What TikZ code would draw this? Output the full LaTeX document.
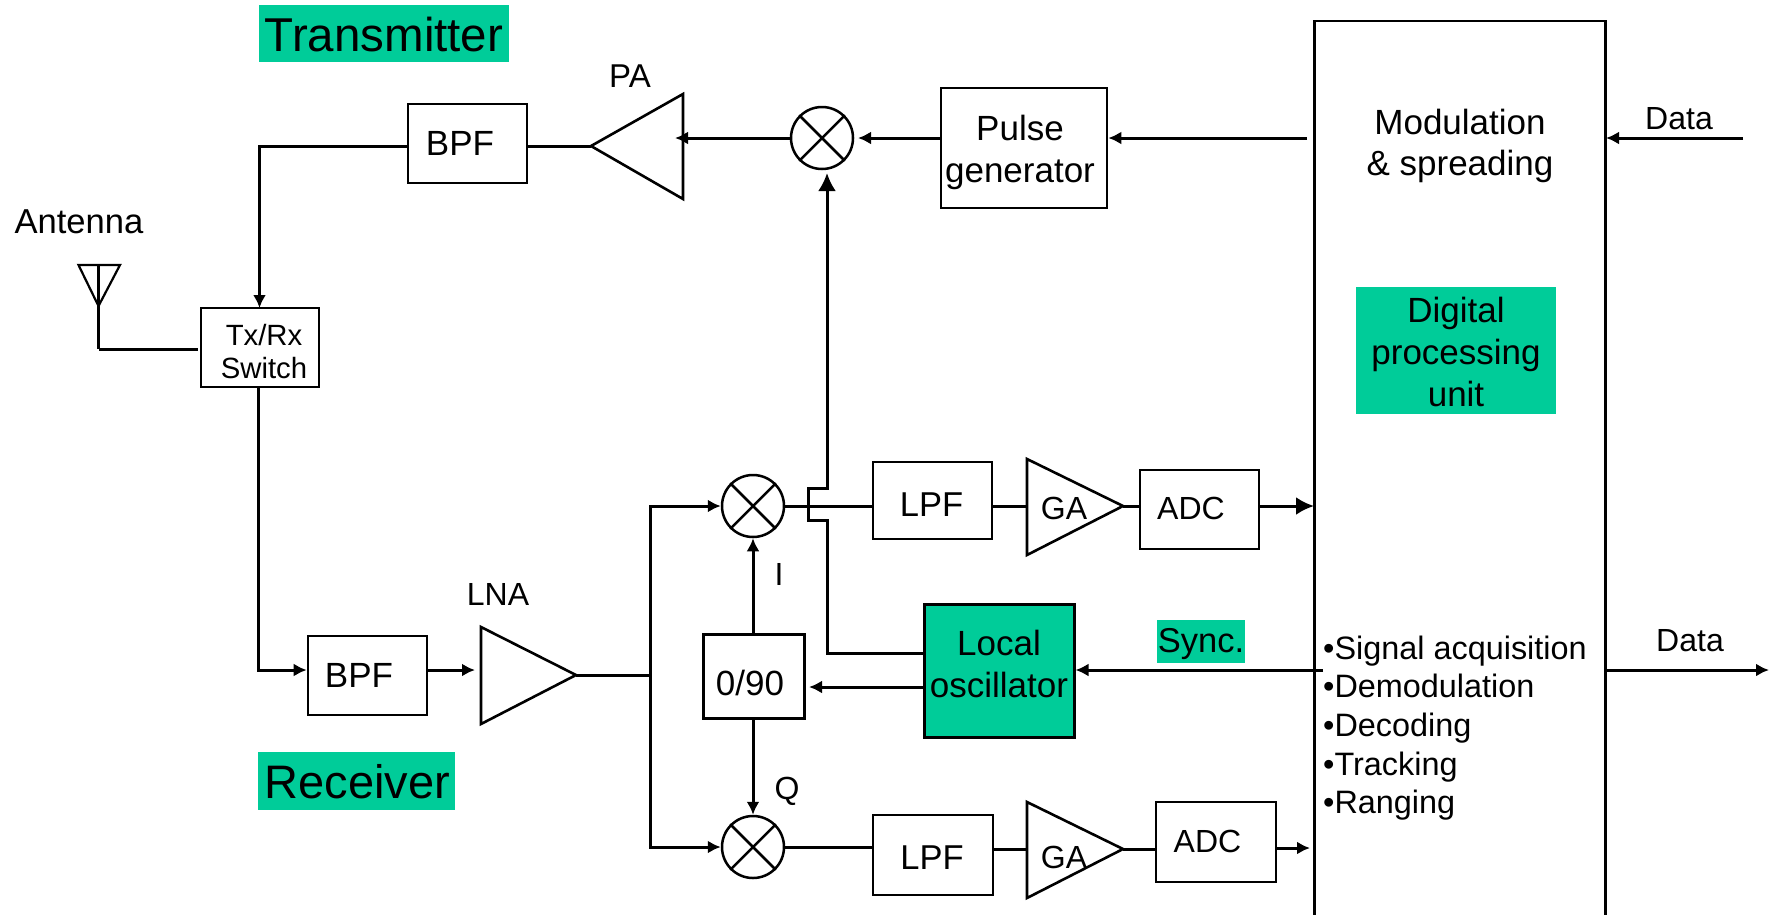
\documentclass[tikz,border=0pt]{standalone}
\usepackage{fontspec}
\setmainfont{Liberation Sans}
\usetikzlibrary{arrows.meta}
\definecolor{tealgreen}{HTML}{00CC99}
\newcommand{\fs}[2][]{\fontsize{#2}{1.2\dimexpr #2pt\relax}\selectfont}
\newcommand{\shft}[3]{\raisebox{-#2}[\height][\depth]{\hspace*{2\dimexpr#1\relax}#3}}
\newcommand{\mlines}[1]{\begin{tabular}{@{}c@{}}#1\end{tabular}}
\tikzset{
  ln/.style={line width=3pt,draw=black},
  arr/.style={ln,-{Latex[length=13pt,width=13pt]}},
  bigarr/.style={ln,-{Latex[length=18pt,width=18pt]}},
  box/.style={draw=black,line width=2.6pt,inner sep=0pt,align=center,font=\fs{35}},
  mix/.style={draw=black,line width=2.5pt,circle,inner sep=0pt,minimum size=62pt},
  tri/.style={draw=black,line width=2.6pt,line join=miter},
  txt/.style={inner sep=0pt,align=center},
  tag/.style={fill=tealgreen,inner sep=0pt,align=center}
}
\begin{document}
\begin{tikzpicture}[x=1pt,y=-1pt]
\useasboundingbox (0,0) rectangle (1769,914);
% labels on green
\node[tag,minimum width=250pt,minimum height=57pt,font=\fs{47.5}] (ttx) at (384,33.5) {\shft{0pt}{1pt}{Transmitter}};
\node[tag,minimum width=197pt,minimum height=58pt,font=\fs{47}] (trx) at (356.5,781) {\shft{1pt}{1pt}{Receiver}};
% main block
\node[draw=black,line width=2.6pt,minimum width=291pt,minimum height=897pt,inner sep=0pt] (dsp) at (1460,469.5) {};
\node[txt,font=\fontsize{35}{41}\selectfont] (mod) at (1460,146) {Modulation\\\& spreading};
\node[tag,minimum width=200pt,minimum height=127pt,font=\fontsize{35}{42}\selectfont] (dig) at (1456,350.5) {\shft{0pt}{5.5pt}{\mlines{Digital\\processing\\unit}}};
\node[txt,anchor=north west,align=left,font=\fontsize{32.4}{38.7}\selectfont] (list) at (1323,635.5) {•Signal acquisition\\•Demodulation\\•Decoding\\•Tracking\\•Ranging};
% boxes
\node[box,minimum width=119pt,minimum height=79pt] (bpft) at (467.5,143.5) {\shft{-7.5pt}{0pt}{BPF}};
\node[box,minimum width=166pt,minimum height=120pt,font=\fontsize{35}{42}\selectfont] (pulse) at (1024,148) {\shft{-4pt}{5pt}{\mlines{Pulse\\generator}}};
\node[box,minimum width=118pt,minimum height=79pt,font=\fontsize{29.3}{33}\selectfont] (sw) at (260,347.5) {\shft{4pt}{7.6pt}{\mlines{Tx/Rx\\Switch}}};
\node[box,minimum width=119pt,minimum height=79pt] (bpfr) at (367.5,675.5) {\shft{-8.5pt}{0pt}{BPF}};
\node[box,line width=3pt,minimum width=101pt,minimum height=84pt] (iq) at (753.5,676) {\shft{-3.5pt}{7pt}{0/90}};
\node[box,fill=tealgreen,line width=3pt,minimum width=150pt,minimum height=133pt,font=\fontsize{35}{42}\selectfont] (lo) at (999,670.5) {\shft{0pt}{-2.5pt}{\mlines{Local\\oscillator}}};
\node[box,minimum width=119pt,minimum height=77pt,font=\fs{34.5}] (lpfi) at (932.5,500.5) {\shft{-1pt}{4pt}{LPF}};
\node[box,minimum width=120pt,minimum height=80pt,font=\fs{34.5}] (lpfq) at (933,855) {\shft{-1pt}{3pt}{LPF}};
\node[box,minimum width=119pt,minimum height=79pt,font=\fs{32}] (adci) at (1199.5,509.5) {\shft{-8.5pt}{-1pt}{ADC}};
\node[box,minimum width=120pt,minimum height=80pt,font=\fs{32}] (adcq) at (1216,842) {\shft{-8.5pt}{-1pt}{ADC}};
% mixers
\node[mix] (mt) at (822,138) {}; \draw[line width=2.5pt] (mt.45)--(mt.225) (mt.135)--(mt.315);
\node[mix] (mi) at (753,506) {}; \draw[line width=2.5pt] (mi.45)--(mi.225) (mi.135)--(mi.315);
\node[mix] (mq) at (753,847) {}; \draw[line width=2.5pt] (mq.45)--(mq.225) (mq.135)--(mq.315);
% triangles
\coordinate (paapex) at (591,146);
\draw[tri] (paapex)--(683,94)--(683,199)--cycle;
\coordinate (lnain) at (481,675.5); \coordinate (lnaapex) at (576,675);
\draw[tri] (lnaapex)--(481,627)--(481,724)--cycle;
\coordinate (gaiin) at (1027,506); \coordinate (gaiapex) at (1123,506);
\draw[tri] (gaiapex)--(1027,459)--(1027,555)--cycle;
\coordinate (gaqin) at (1027,849); \coordinate (gaqapex) at (1123,849);
\draw[tri] (gaqapex)--(1027,802)--(1027,898)--cycle;
\node[txt,font=\fs{32}] (gai) at (1064,508) {GA};
\node[txt,font=\fs{32}] (gaq) at (1064,857) {GA};
% antenna
\coordinate (anttop) at (98.5,265); \coordinate (antfoot) at (98.5,349);
\draw[line width=2.2pt] (78.5,265)--(120,265)--(98.5,306)--cycle;
\draw[ln] (anttop)--(antfoot);
\coordinate (swin) at (198,349);
\draw[ln] (antfoot)--(swin);
\node[txt,font=\fs{34.6}] (antl) at (79,222) {Antenna};
% small labels
\node[txt,font=\fs{33}] (pal) at (630,76) {PA};
\node[txt,font=\fs{32}] (lnal) at (498,594) {LNA};
\node[txt,font=\fs{32}] (il) at (779,574) {I};
\node[txt,font=\fs{32}] (ql) at (787,791) {Q};
\node[txt,font=\fs{32}] (din) at (1679,119) {Data};
\node[txt,font=\fs{32}] (dout) at (1690,641) {Data};
\node[tag,minimum width=88pt,minimum height=43pt,font=\fs{34.5}] (sync) at (1201,641.5) {\shft{0pt}{3pt}{Sync.}};
% connectors
\coordinate (dspmod) at (1307,138);
\coordinate (dindata) at (1743,138); \coordinate (dinend) at (1606,138);
\coordinate (dspsync) at (1323,670);
\coordinate (doutstart) at (1606,670); \coordinate (doutend) at (1769,670);
\draw[arr] (dindata)--(dinend);
\draw[arr] (dspmod)--(pulse.east|-dspmod);
\coordinate (mtin) at (858,138);
\draw[arr] (pulse.west|-dspmod)--(mtin);
\coordinate (patip) at (675,138);
\draw[arr] (mt.west)--(patip);
\draw[ln] (paapex)--(bpft.east|-paapex);
\coordinate (topcorner) at (259.5,146);
\draw[arr] (bpft.west|-paapex)--(topcorner)--(259.5,308);
\coordinate (botcorner) at (258.5,670);
\draw[arr] (258.5,387)--(botcorner)--(bpfr.west|-botcorner);
\draw[arr] (bpfr.east|-botcorner)--(475,670);
\coordinate (split) at (650,675);
\draw[ln] (lnaapex)--(split);
\draw[arr] (split)--(650,506)--(mi.west);
\draw[arr] (split)--(650,847)--(mq.west);
\draw[arr] (mi.south|-iq.north)--(mi.south);
\draw[arr] (mq.north|-iq.south)--(mq.north);
\draw[ln] (mi.east)--(lpfi.west|-mi.east);
\draw[ln] (lpfi.east|-gaiin)--(gaiin);
\draw[ln] (gaiapex)--(adci.west|-gaiapex);
\draw[bigarr] (adci.east|-gaiapex)--(1314,506);
\draw[ln] (mq.east)--(lpfq.west|-mq.east);
\draw[ln] (lpfq.east|-gaqin)--(gaqin);
\draw[ln] (gaqapex)--(adcq.west|-gaqapex);
\draw[arr] (adcq.east|-0,848)--(1310,848);
\coordinate (mtlo) at (827,173);
\draw[bigarr,line join=miter] (lo.west|-0,653)--(827,653)--(827,520)--(808,520)--(808,488)--(827,488)--(mtlo);
\coordinate (iqin) at (809,687);
\draw[arr] (lo.west|-0,687)--(iqin);
\draw[arr] (dspsync)--(lo.east|-dspsync);
\draw[arr] (doutstart)--(doutend);
\end{tikzpicture}
\end{document}
